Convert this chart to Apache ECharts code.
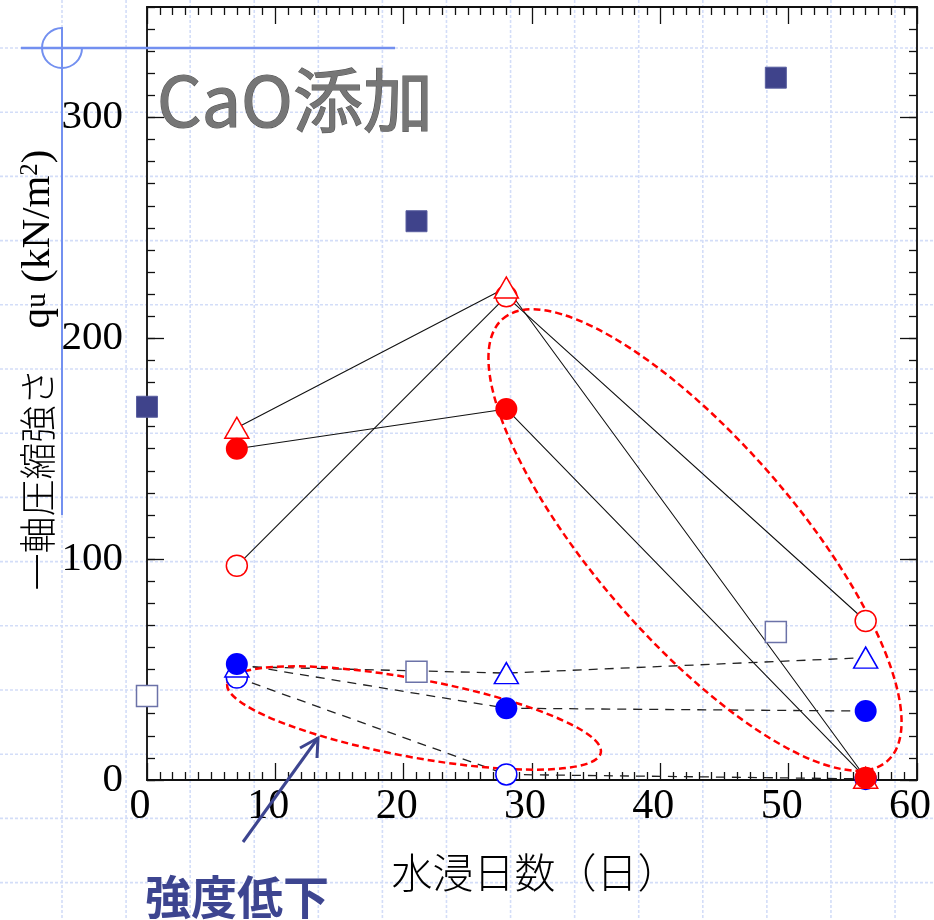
<!DOCTYPE html>
<html>
<head>
<meta charset="utf-8">
<script src="https://cdn.jsdelivr.net/npm/echarts@6/dist/echarts.min.js"></script>
<style>
  html, body { margin: 0; padding: 0; background: #fff; }
  #chart { width: 934px; height: 920px; }
</style>
</head>
<body>
<div id="chart"></div>
<script>
// Immersion days at which each specimen group was tested
const daysSquares = [0, 21, 49];
const daysGroups = [7, 28, 56];

// Unconfined compressive strength qu (kN/m²) per group
const squareFilled = [169, 253, 318];
const squareOpen = [38, 49, 67];
const redOpenCircle = [97, 219, 72];
const redTriangle = [159.5, 223, 1];
const redFilledCircle = [150, 168, 1];
const blueOpenCircle = [46.4, 2.5, 0.5];
const blueTriangle = [51.4, 48.4, 55.4];
const blueFilledCircle = [52.5, 32.5, 31.2];

// Axis tick labels
const xTickLabels = ['0', '10', '20', '30', '40', '50', '60'];
const yTickLabels = ['0', '100', '200', '300'];

const SERIF = '"Liberation Serif", "Times New Roman", serif';
const CJK = '"Noto Sans CJK JP", "Noto Sans", sans-serif';

const pts = (xs, ys) => xs.map((x, i) => [x, ys[i]]);

const chart = echarts.init(document.getElementById('chart'), null, { renderer: 'canvas' });

function xAxisDef(pos, labels) {
  return {
    type: 'value', position: pos, min: 0, max: 60, interval: 10,
    axisLine: { show: true, onZero: false, lineStyle: { color: '#111', width: 2 } },
    axisTick: { show: true, inside: true, length: 17, lineStyle: { color: '#111', width: 1.3 } },
    minorTick: { show: true, splitNumber: 10, length: 8, lineStyle: { color: '#111', width: 1.3 } },
    splitLine: { show: false },
    axisLabel: {
      show: labels, margin: 6, color: '#000', fontFamily: SERIF, fontSize: 42,
      padding: [0, 14, 0, 0],
      formatter: v => (xTickLabels.includes(String(v)) ? String(v) : '')
    }
  };
}

function yAxisDef(pos, step, len, labels, line) {
  return {
    type: 'value', position: pos, min: 0, max: 350, interval: step,
    axisLine: { show: line, onZero: false, lineStyle: { color: '#222', width: 2 } },
    axisTick: { show: true, inside: true, length: len, lineStyle: { color: '#111', width: 1.3 } },
    splitLine: { show: false },
    axisLabel: {
      show: labels, margin: 24, color: '#000', fontFamily: SERIF, fontSize: 41,
      showMaxLabel: false,
      formatter: v => (yTickLabels.includes(String(v)) ? String(v) : '')
    }
  };
}

function connector(data, dashed) {
  return {
    type: 'line', data, symbol: 'none', z: 2, silent: true,
    lineStyle: { color: dashed ? '#222' : '#111', width: dashed ? 1.3 : 1.1, type: dashed ? [9, 7] : 'solid' },
    animation: false
  };
}

function markers(data, symbol, size, fill, stroke, width) {
  return {
    type: 'scatter', data, symbol, symbolSize: size, z: 4,
    itemStyle: { color: fill, borderColor: stroke, borderWidth: width, opacity: 1 },
    animation: false
  };
}

// Notebook-style dashed background grid
const bg = [];
for (let k = -1; k <= 14; k++) {
  const x = 62 + 64.08 * k;
  bg.push({ type: 'line', z: -10, silent: true, shape: { x1: x, y1: 0, x2: x, y2: 920 },
    style: { stroke: '#d3ddf8', lineWidth: 1.6, lineDash: [3, 2] } });
}
for (let k = -1; k <= 14; k++) {
  const y = 48 + 64.2 * k;
  bg.push({ type: 'line', z: -10, silent: true, shape: { x1: 0, y1: y, x2: 934, y2: y },
    style: { stroke: '#d3ddf8', lineWidth: 1.6, lineDash: [3, 2] } });
}

const deco = [
  // blue crosshair guide
  { type: 'line', z: 20, silent: true, shape: { x1: 21, y1: 48, x2: 395, y2: 48 },
    style: { stroke: '#7390f0', lineWidth: 2.5 } },
  { type: 'line', z: 20, silent: true, shape: { x1: 62, y1: 27, x2: 62, y2: 515 },
    style: { stroke: '#7390f0', lineWidth: 2 } },
  { type: 'arc', z: 20, silent: true, shape: { cx: 62, cy: 48, r: 20, startAngle: 0, endAngle: Math.PI * 1.5, clockwise: true },
    style: { stroke: '#7390f0', lineWidth: 2, fill: 'none' } },
  // dashed ellipses around the strength drop
  { type: 'ellipse', z: 3, silent: true, x: 695, y: 540, rotation: -49 * Math.PI / 180,
    shape: { cx: 0, cy: 0, rx: 293, ry: 100 },
    style: { fill: 'none', stroke: '#ff0000', lineWidth: 2.5, lineDash: [7, 4] } },
  { type: 'ellipse', z: 3, silent: true, x: 414, y: 718, rotation: -10.5 * Math.PI / 180,
    shape: { cx: 0, cy: 0, rx: 190, ry: 39 },
    style: { fill: 'none', stroke: '#ff0000', lineWidth: 2.5, lineDash: [7, 4] } },
  // arrow pointing at the lower ellipse
  { type: 'polyline', z: 20, silent: true, shape: { points: [[243, 842], [318, 738]] },
    style: { stroke: '#3d4590', lineWidth: 3, fill: 'none' } },
  { type: 'polyline', z: 20, silent: true, shape: { points: [[300, 748], [318, 738], [317, 758]] },
    style: { stroke: '#3d4590', lineWidth: 3, fill: 'none' } },
  // titles and labels
  { type: 'text', z: 20, silent: true, x: 157, y: 100,
    style: { text: 'CaO添加', font: 'normal 70px ' + CJK, fill: '#767676',
      stroke: '#575757', lineWidth: 1.2,
      textAlign: 'left', textVerticalAlign: 'middle',
      shadowColor: 'rgba(0,0,0,0.3)', shadowBlur: 3, shadowOffsetX: 2, shadowOffsetY: 2 } },
  { type: 'text', z: 20, silent: true, x: 237, y: 897,
    style: { text: '強度低下', font: 'bold 46px ' + CJK, fill: '#3d4590',
      textAlign: 'center', textVerticalAlign: 'middle' } },
  { type: 'text', z: 20, silent: true, x: 535, y: 872,
    style: { text: '水浸日数（日）', font: '300 41px ' + CJK, fill: '#000',
      textAlign: 'center', textVerticalAlign: 'middle' } },
  { type: 'text', z: 20, silent: true, x: 38, y: 370, rotation: Math.PI / 2,
    style: {
      text: '{cjk|一軸圧縮強さ}{gap| }{lat|q}{u|u}{lat| (kN/m}{sup|2}{lat|)}',
      textAlign: 'center', textVerticalAlign: 'middle', fill: '#000',
      rich: {
        cjk: { font: '300 37px ' + CJK, fill: '#000' },
        gap: { font: '36px ' + SERIF, width: 40 },
        lat: { font: '41px ' + SERIF, fill: '#000' },
        u: { font: '30px ' + SERIF, fill: '#000', verticalAlign: 'bottom', padding: [0, 0, 6, 0] },
        sup: { font: '25px ' + SERIF, fill: '#000', verticalAlign: 'top', padding: [0, 0, 16, 0] }
      }
    } }
];

chart.setOption({
  animation: false,
  backgroundColor: 'transparent',
  grid: { left: 147, right: 13, top: 7, bottom: 140, containLabel: false },
  xAxis: [xAxisDef('bottom', true), xAxisDef('top', false)],
  yAxis: [
    yAxisDef('left', 100, 17, true, true),
    yAxisDef('left', 10, 8, false, false),
    yAxisDef('right', 100, 17, false, true),
    yAxisDef('right', 10, 8, false, false)
  ],
  graphic: bg.concat(deco),
  series: [
    connector(pts(daysGroups, redOpenCircle), false),
    connector(pts(daysGroups, redTriangle), false),
    connector(pts(daysGroups, redFilledCircle), false),
    connector(pts(daysGroups, blueOpenCircle), true),
    connector(pts(daysGroups, blueTriangle), true),
    connector(pts(daysGroups, blueFilledCircle), true),
    markers(pts(daysSquares, squareFilled), 'rect', 21, '#3f438b', '#5a5fa0', 1),
    markers(pts(daysSquares, squareOpen), 'rect', 21, '#ffffff', '#6b72a8', 1.5),
    markers(pts(daysGroups, blueOpenCircle), 'circle', 21, '#ffffff', '#0000ff', 1.5),
    markers(pts(daysGroups, blueTriangle), 'triangle', [24, 21], '#ffffff', '#0000ff', 1.5),
    markers(pts(daysGroups, blueFilledCircle), 'circle', 22, '#0000ff', '#0000ff', 0),
    markers(pts(daysGroups, redOpenCircle), 'circle', 21, '#ffffff', '#ff0000', 1.5),
    markers(pts(daysGroups, redTriangle), 'triangle', [24, 21], '#ffffff', '#ff0000', 1.5),
    markers(pts(daysGroups, redFilledCircle), 'circle', 22, '#ff0000', '#ff0000', 0)
  ]
});
</script>
</body>
</html>
